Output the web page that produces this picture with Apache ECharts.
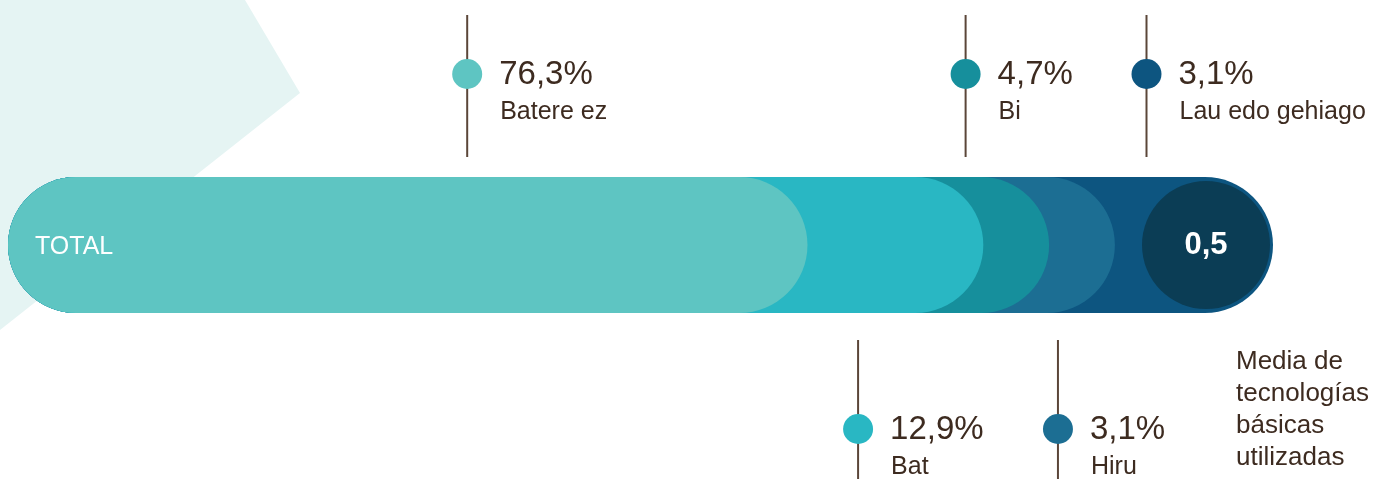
<!DOCTYPE html>
<html>
<head>
<meta charset="utf-8">
<script src="https://cdn.jsdelivr.net/npm/echarts@6/dist/echarts.min.js"></script>
<style>
  html, body { margin: 0; padding: 0; background: #fff; }
  #main { width: 1373px; height: 479px; }
</style>
</head>
<body>
<div id="main"></div>
<script>
const categories = ['Batere ez', 'Bat', 'Bi', 'Hiru', 'Lau edo gehiago'];
const shares = [76.3, 12.9, 4.7, 3.1, 3.1];
// how far each pill reaches along the bar (% of bar length), as drawn in the picture
const reach = [63.2, 77.1, 82.3, 87.5, 100];
const average = 0.5;
const averageText = ['Media de', 'tecnologías', 'básicas', 'utilizadas'];

const colors = ['#5ec5c2', '#29b7c3', '#168f9c', '#1c6e93', '#0d5580'];
const circleColor = '#0b3d55';
const textColor = '#3d2b20';
const lineColor = '#5b4639';
const font = '"Liberation Sans", Arial, sans-serif';

// callout anchors on the bar axis and which side they go
const calloutAt = [36.3, 67.2, 75.7, 83.0, 90.0];
const calloutUp = [true, false, true, false, true];

const fmt = v => v.toFixed(1).replace('.', ',');

let myChart = echarts.init(document.getElementById('main'));

// biggest pill first so the smaller ones stack on top of it
const barData = categories.map((c, i) => ({ value: [reach[i], 0], name: c, idx: i })).reverse();

myChart.setOption({
  animation: false,
  grid: { left: 8, right: 100, top: 177, height: 136 },
  xAxis: { type: 'value', min: 0, max: 100, show: false },
  yAxis: { type: 'category', data: ['TOTAL'], show: false },
  graphic: [
    {
      type: 'polygon',
      z: -1,
      shape: { points: [[0, 0], [245, 0], [300, 93], [0, 330]] },
      style: { fill: '#e5f4f3' }
    },
    {
      type: 'text',
      left: 1236,
      top: 346,
      style: {
        text: averageText.join('\n'),
        fill: textColor,
        font: '26px ' + font,
        lineHeight: 32
      }
    }
  ],
  series: [
    {
      type: 'custom',
      name: 'bar',
      data: barData,
      renderItem: function (params, api) {
        const start = api.coord([0, 0]);
        const end = api.coord([api.value(0), 0]);
        const h = api.size([0, 1])[1];
        const i = barData[params.dataIndex].idx;
        const children = [{
          type: 'rect',
          shape: { x: start[0], y: start[1] - h / 2, width: end[0] - start[0], height: h, r: h / 2 },
          style: { fill: colors[i] }
        }];
        if (i === 0) {
          children.push({
            type: 'text',
            style: { x: start[0] + 27, y: start[1] + 2, text: 'TOTAL', fill: '#fff', font: '25px ' + font, verticalAlign: 'middle' }
          });
        }
        return { type: 'group', children: children };
      }
    },
    {
      type: 'custom',
      name: 'average',
      z: 3,
      data: [[reach[reach.length - 1], 0]],
      renderItem: function (params, api) {
        const end = api.coord([api.value(0), 0]);
        const h = api.size([0, 1])[1];
        const r = h / 2 - 4;
        return {
          type: 'group',
          children: [
            { type: 'circle', shape: { cx: end[0] - h / 2 + 1, cy: end[1], r: r }, style: { fill: circleColor } },
            {
              type: 'text',
              style: {
                x: end[0] - h / 2 + 1, y: end[1], text: fmt(average),
                fill: '#fff', font: 'bold 31px ' + font, align: 'center', verticalAlign: 'middle'
              }
            }
          ]
        };
      }
    },
    {
      type: 'custom',
      name: 'callouts',
      z: 4,
      data: calloutAt.map((v, i) => [v, 0]),
      renderItem: function (params, api) {
        const i = params.dataIndex;
        const p = api.coord([api.value(0), 0]);
        const up = calloutUp[i];
        const y1 = up ? p[1] - 230 : p[1] + 95;
        const y2 = up ? p[1] - 88 : p[1] + 240;
        const dy = up ? p[1] - 171 : p[1] + 184;
        return {
          type: 'group',
          children: [
            { type: 'line', shape: { x1: p[0], y1: y1, x2: p[0], y2: y2 }, style: { stroke: lineColor, lineWidth: 2 } },
            { type: 'circle', shape: { cx: p[0], cy: dy, r: 15 }, style: { fill: colors[i] } },
            {
              type: 'text',
              style: { x: p[0] + 32, y: dy + 1, text: fmt(shares[i]) + '%', fill: textColor, font: '33px ' + font, verticalAlign: 'middle' }
            },
            {
              type: 'text',
              style: { x: p[0] + 33, y: dy + 38, text: categories[i], fill: textColor, font: '25px ' + font, verticalAlign: 'middle' }
            }
          ]
        };
      }
    }
  ]
});

window.addEventListener('resize', () => { myChart.resize(); });
</script>
</body>
</html>
